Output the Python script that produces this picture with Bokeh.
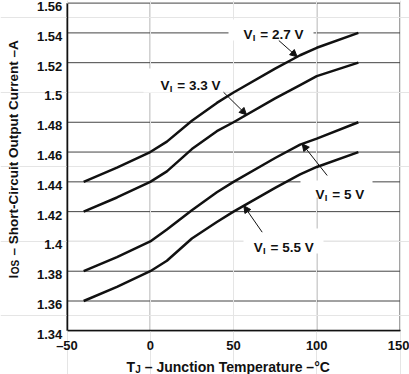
import numpy as np
from bokeh.plotting import figure
from bokeh.models import Range1d, FixedTicker, Label, Arrow, NormalHead, BoxAnnotation, LinearAxis
from bokeh.embed import file_html
from bokeh.resources import INLINE

# ---------------- data ----------------
temps = [-40, -20, 0, 10, 25, 40, 50, 75, 90, 100, 125]
i_os_27 = [1.440, 1.4495, 1.460, 1.467, 1.481, 1.493, 1.500, 1.516, 1.525, 1.530, 1.540]
i_os_33 = [1.420, 1.4295, 1.440, 1.447, 1.462, 1.474, 1.480, 1.496, 1.505, 1.511, 1.520]
i_os_50 = [1.380, 1.3895, 1.400, 1.408, 1.421, 1.433, 1.440, 1.456, 1.465, 1.469, 1.480]
i_os_55 = [1.360, 1.3695, 1.380, 1.387, 1.402, 1.413, 1.420, 1.436, 1.445, 1.450, 1.460]
series_labels = ["2.7 V", "3.3 V", "5 V", "5.5 V"]

x_ticks = [-50, 0, 50, 100, 150]
x_tick_labels = ["\u201350", "0", "50", "100", "150"]
y_ticks = [1.34, 1.36, 1.38, 1.40, 1.42, 1.44, 1.46, 1.48, 1.50, 1.52, 1.54, 1.56]
y_tick_labels = ["1.34", "1.36", "1.38", "1.4", "1.42", "1.44", "1.46", "1.48", "1.5", "1.52", "1.54", "1.56"]

# ---------------- layout ----------------
W, H = 409, 374
PX_L, PX_R = 66.5, 399.5      # pixel of first / last x tick
PY_T, PY_B = 2.6, 330.3       # pixel of top / bottom y tick
X0, X1 = x_ticks[0], x_ticks[-1]
Y0, Y1 = y_ticks[0], y_ticks[-1]
kx = (PX_R - PX_L) / (X1 - X0)
ky = (PY_B - PY_T) / (Y1 - Y0)
x_range = Range1d(X0 - PX_L / kx, X1 + (W - PX_R) / kx)
y_range = Range1d(Y0 - (H - PY_B) / ky, Y1 + PY_T / ky)

def dx(px):   # pixel column -> data x (for annotation placement)
    return X0 + (px - PX_L) / kx

def dy(py):   # pixel row -> data y (for annotation placement)
    return Y1 - (py - PY_T) / ky

FONT = "Liberation Sans"
INK = "#111111"
GRID = "#444444"

p = figure(width=W, height=H, x_range=x_range, y_range=y_range,
           x_axis_location=None, y_axis_location=None,
           output_backend="svg", toolbar_location=None,
           min_border=0, min_border_left=0, min_border_right=0,
           min_border_top=0, min_border_bottom=0,
           background_fill_color="white", border_fill_color="white")
p.outline_line_color = None

# grid (drawn below everything)
nx, ny = len(x_ticks), len(y_ticks)
p.segment(x0=x_ticks, y0=[Y0] * nx, x1=x_ticks, y1=[Y1] * nx,
          line_color=GRID, line_width=1, level="image")
p.segment(x0=[X0] * ny, y0=y_ticks, x1=[X1] * ny, y1=y_ticks,
          line_color=GRID, line_width=1, level="image")

# axes at fixed locations inside the canvas
xax = LinearAxis(fixed_location=Y0, bounds=(X0, X1), ticker=FixedTicker(ticks=x_ticks))
xax.major_label_overrides = {t: l for t, l in zip(x_ticks, x_tick_labels)}
xax.major_label_standoff = 7
yax = LinearAxis(fixed_location=X0, bounds=(Y0, Y1), ticker=FixedTicker(ticks=[]))
for ax in (xax, yax):
    ax.major_tick_line_color = None
    ax.minor_tick_line_color = None
    ax.major_tick_out = 0
    ax.major_tick_in = 0
    ax.axis_line_color = INK
    ax.axis_line_width = 1.5
    ax.major_label_text_font = FONT
    ax.major_label_text_font_style = "bold"
    ax.major_label_text_font_size = "13px"
    ax.major_label_text_color = INK
p.add_layout(xax, "below")
p.add_layout(yax, "left")

# y tick labels hang just below their grid lines, as in the original
p.text(x=[X0] * ny, y=y_ticks, text=y_tick_labels, x_offset=-4.8, y_offset=-1.0,
       text_align="right", text_baseline="top", text_font_size="13px",
       text_font_style="bold", text_color=INK, text_font={"value": FONT})

# white boxes behind the curve labels (hide grid lines)
boxes_px = [(228, 313, 19, 40), (143, 224, 68, 92), (300, 372, 180, 197), (243, 323, 228, 253)]
for l, r, t, b in boxes_px:
    p.add_layout(BoxAnnotation(left=dx(l), right=dx(r), bottom=dy(b), top=dy(t),
                               fill_color="white", fill_alpha=1.0, line_color=None,
                               level="underlay"))

all_series = [i_os_27, i_os_33, i_os_50, i_os_55]
for s in all_series:
    p.line(temps, s, line_width=2.5, line_color=INK)

def txt(text, x, y, size, xo=0, yo=0, angle=0.0):
    return Label(x=x, y=y, text=text, x_offset=xo, y_offset=yo, angle=angle,
                 text_font=FONT, text_font_style="bold", text_font_size=size,
                 text_color=INK, text_align="left", text_baseline="alphabetic")

# curve labels: text start / baseline in pixels
label_px = [(243, 33.5), (160, 85), (315, 193.5), (253.3, 246.7)]
for (lx, ly), name in zip(label_px, series_labels):
    x, y = dx(lx), dy(ly)
    p.add_layout(txt("V", x, y, "13.5px"))
    p.add_layout(txt("I", x, y, "9.5px", xo=9.3, yo=-3.4))
    p.add_layout(txt("\u00a0= " + name, x, y, "13.5px", xo=13.0))

# arrows: tail pixel, tip pixel column (tip sits on its curve)
arrow_px = [((278.3, 40), 296.7), ((223, 91.7), 246), ((326.7, 175), 301.7), ((261.7, 231.7), 243.3)]
for ((tx, ty), hx), s in zip(arrow_px, all_series):
    tip_x = dx(hx)
    tip_y = float(np.interp(tip_x, temps, s))
    p.add_layout(Arrow(x_start=dx(tx), y_start=dy(ty), x_end=tip_x, y_end=tip_y,
                       line_color=INK, line_width=1,
                       end=NormalHead(size=7, fill_color=INK, line_color=INK, line_width=1)))

# axis titles with subscripts
tx0, ty0 = dx(126), dy(366.5)
p.add_layout(txt("T", tx0, ty0, "14px"))
p.add_layout(txt("J", tx0, ty0, "10px", xo=8.8, yo=-2.5))
p.add_layout(txt("\u00a0\u2013 Junction Temperature \u2013\u00b0C", tx0, ty0, "14px", xo=14.4))

ang = np.pi / 2
yx0, yy0 = dx(13), dy(278)
p.add_layout(txt("I", yx0, yy0, "13.5px", angle=ang))
p.add_layout(txt("OS", yx0, yy0, "10px", xo=1.5, yo=4.3, angle=ang))
p.add_layout(txt("\u00a0\u2013 Short-Circuit Output Current \u2013A", yx0, yy0, "13.5px", yo=19.3, angle=ang))

open("out.html", "w").write(file_html(p, INLINE))
